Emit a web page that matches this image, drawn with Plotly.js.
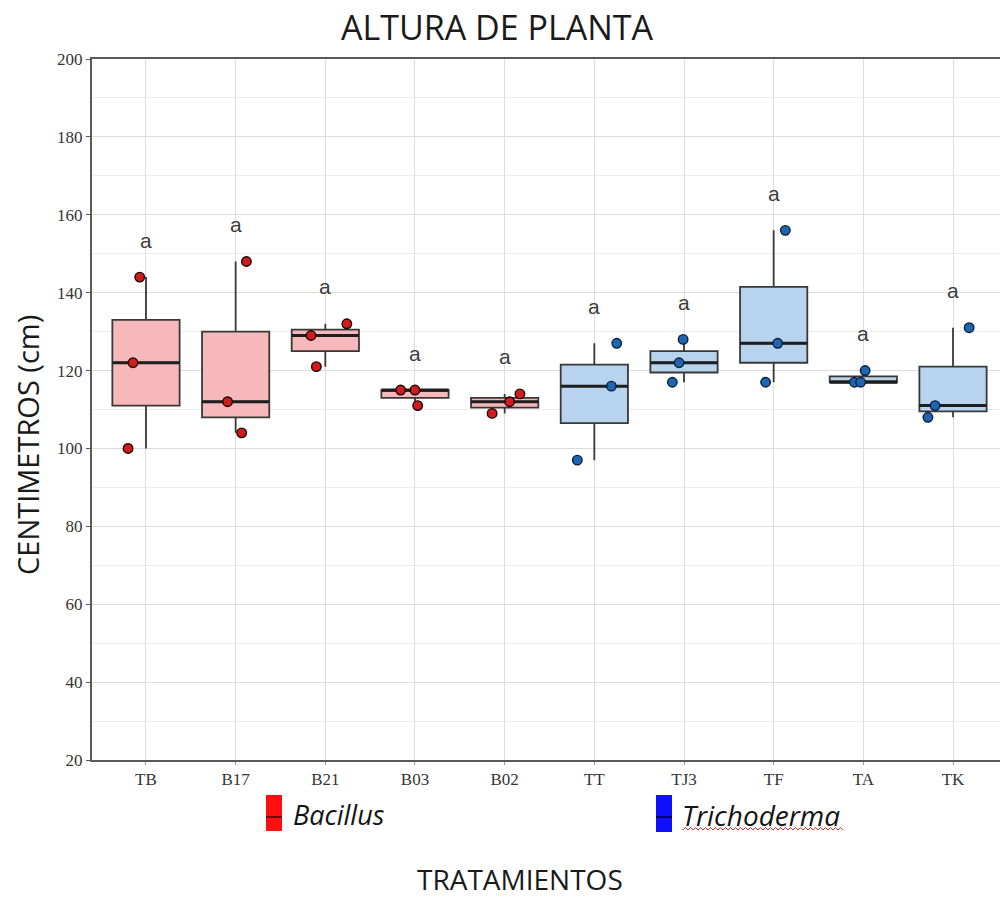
<!DOCTYPE html>
<html><head><meta charset="utf-8">
<script src="https://cdn.plot.ly/plotly-3.0.1.min.js"></script>
<style>html,body{margin:0;padding:0;background:#fff}</style>
</head><body><div id="chart" style="width:1000px;height:901px"></div>
<script>
// ---- data ----
const categories = ['TB','B17','B21','B03','B02','TT','TJ3','TF','TA','TK'];
const genus = ['Bacillus','Bacillus','Bacillus','Bacillus','Bacillus','Trichoderma','Trichoderma','Trichoderma','Trichoderma','Trichoderma'];
const letters = ['a','a','a','a','a','a','a','a','a','a'];
const TB  = [100, 122, 144];
const B17 = [104, 112, 148];
const B21 = [121, 129, 132];
const B03 = [111, 115, 115];
const B02 = [109, 112, 114];
const TT  = [97, 116, 127];
const TJ3 = [117, 122, 128];
const TF  = [117, 127, 156];
const TA  = [117, 117, 120];
const TK  = [108, 111, 131];
// horizontal jitter of the dots (category units)
const jitterTB  = [-0.20, -0.145, -0.07];
const jitterB17 = [0.067, -0.09, 0.12];
const jitterB21 = [-0.10, -0.16, 0.24];
const jitterB03 = [0.03, -0.16, 0.0];
const jitterB02 = [-0.14, 0.055, 0.17];
const jitterTT  = [-0.19, 0.19, 0.25];
const jitterTJ3 = [-0.13, -0.055, -0.01];
const jitterTF  = [-0.09, 0.045, 0.13];
const jitterTA  = [-0.10, -0.03, 0.02];
const jitterTK  = [-0.28, -0.20, 0.18];

const values = [TB,B17,B21,B03,B02,TT,TJ3,TF,TA,TK];
const jitters = [jitterTB,jitterB17,jitterB21,jitterB03,jitterB02,jitterTT,jitterTJ3,jitterTF,jitterTA,jitterTK];

const style = {
  Bacillus:    {fill:'#f6b8ba', dot:'#d01c1c', dotLine:'#1a0000'},
  Trichoderma: {fill:'#b8d3ee', dot:'#1f66b1', dotLine:'#0a1e3a'}
};
const BOXW = 0.75;

function median(a){const s=[...a].sort((p,q)=>p-q);const n=s.length;return n%2?s[(n-1)/2]:(s[n/2-1]+s[n/2])/2;}

const traces = [];
['Bacillus','Trichoderma'].forEach(g=>{
  const bx=[],by=[],px=[],py=[],mx=[],my=[];
  categories.forEach((c,i)=>{
    if(genus[i]!==g) return;
    values[i].forEach((v,k)=>{bx.push(i);by.push(v);px.push(i+jitters[i][k]);py.push(v);});
    const m=median(values[i]);
    mx.push(i-BOXW/2,i+BOXW/2,null); my.push(m,m,null);
  });
  traces.push({type:'box',x:bx,y:by,quartilemethod:'inclusive',boxpoints:false,width:BOXW,
    fillcolor:style[g].fill,line:{color:'#383838',width:1.8},whiskerwidth:0,hoverinfo:'skip',showlegend:false});
  traces.push({type:'scatter',mode:'lines',x:mx,y:my,line:{color:'#1e1e1e',width:3},hoverinfo:'skip',showlegend:false});
  traces.push({type:'scatter',mode:'markers',x:px,y:py,marker:{size:9.5,color:style[g].dot,line:{color:style[g].dotLine,width:1.4}},hoverinfo:'skip',showlegend:false});
});

const L=92, T=59, W=908, H=701;
const px2x = p => (p-L)/W;
const py2y = p => (T+H-p)/H;

const annotations = categories.map((c,i)=>({
  x:i, y:Math.max(...values[i])+9.5, xref:'x', yref:'y', text:letters[i], showarrow:false,
  xanchor:'center', yanchor:'middle',
  font:{family:'Liberation Sans, Arial, sans-serif', size:21, color:'#3d3d3d'}
}));
const bigFont = {family:'Open Sans, sans-serif', size:29, color:'#1a1a1a'};
annotations.push({x:px2x(27), y:py2y(445), xref:'paper', yref:'paper', xanchor:'center', yanchor:'middle',
  text:'CENTIMETROS (cm)', textangle:-90, showarrow:false, font:bigFont});
annotations.push({x:px2x(520), y:py2y(900), xref:'paper', yref:'paper', xanchor:'center', yanchor:'bottom',
  text:'TRATAMIENTOS', showarrow:false, font:{family:'Open Sans, sans-serif', size:28, color:'#1a1a1a'}});
annotations.push({x:px2x(291), y:py2y(815), xref:'paper', yref:'paper', xanchor:'left', yanchor:'middle',
  text:'<i>Bacillus</i>', showarrow:false, font:{family:'Open Sans, sans-serif', size:27, color:'#141414'}});
annotations.push({x:px2x(680), y:py2y(815), xref:'paper', yref:'paper', xanchor:'left', yanchor:'middle',
  text:'<i>Trichoderma</i>', showarrow:false, font:{family:'Open Sans, sans-serif', size:28, color:'#141414'}});

// wavy spell-check underline under "Trichoderma"
let wave='M '+px2x(683)+','+py2y(829);
for(let p=683, k=0; p<=843; p+=2.5, k++){ wave+=' L '+px2x(p)+','+py2y(k%2?827.5:830); }

const shapes = [
  {type:'rect',xref:'paper',yref:'paper',x0:px2x(266),x1:px2x(282),y0:py2y(795),y1:py2y(831),fillcolor:'#ff1010',line:{width:0}},
  {type:'line',xref:'paper',yref:'paper',x0:px2x(266),x1:px2x(282),y0:py2y(817),y1:py2y(817),line:{color:'#7a0000',width:2}},
  {type:'rect',xref:'paper',yref:'paper',x0:px2x(656),x1:px2x(672),y0:py2y(795),y1:py2y(832),fillcolor:'#1010ff',line:{width:0}},
  {type:'line',xref:'paper',yref:'paper',x0:px2x(656),x1:px2x(672),y0:py2y(817),y1:py2y(817),line:{color:'#00007a',width:2}},
  {type:'path',xref:'paper',yref:'paper',path:wave,line:{color:'#e03030',width:1}}
];

const tickFont = {family:'Liberation Serif, Times New Roman, serif', size:17, color:'#353535'};
const layout = {
  width:1000, height:901, autosize:false,
  margin:{l:L, r:0, t:T, b:901-T-H, pad:0},
  paper_bgcolor:'#ffffff', plot_bgcolor:'#ffffff',
  title:{text:'ALTURA DE PLANTA', x:497/1000, xanchor:'center', y:1-28/901, yanchor:'middle',
    font:{family:'Open Sans, sans-serif', size:34, color:'#1a1a1a'}},
  boxmode:'overlay',
  xaxis:{range:[-0.602,9.524], tickvals:categories.map((c,i)=>i), ticktext:categories,
    showgrid:true, gridcolor:'#dddddd', gridwidth:1, zeroline:false,
    showline:true, linecolor:'#5a5a5a', linewidth:2, mirror:true,
    ticks:'outside', ticklen:3, tickcolor:'#9a9a9a', tickfont:tickFont, fixedrange:true},
  yaxis:{range:[20,200], tick0:20, dtick:20, showgrid:true, gridcolor:'#dcdcdc', gridwidth:1,
    minor:{tick0:10, dtick:10, showgrid:true, gridcolor:'#ececec', gridwidth:1},
    zeroline:false, showline:true, linecolor:'#5a5a5a', linewidth:2,
    ticks:'outside', ticklen:4, tickcolor:'#5a5a5a', tickfont:tickFont, fixedrange:true},
  annotations:annotations, shapes:shapes, showlegend:false
};
Plotly.newPlot('chart', traces, layout, {displayModeBar:false, staticPlot:true});
</script></body></html>
